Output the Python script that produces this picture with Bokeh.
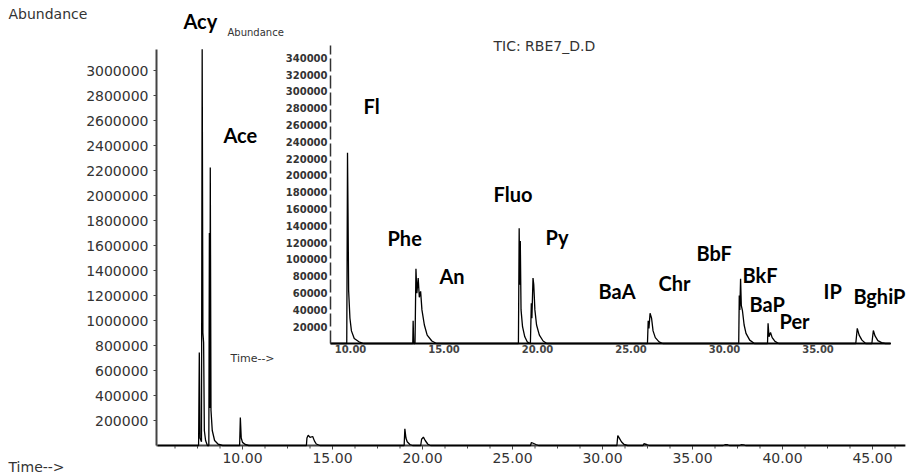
from bokeh.plotting import figure
from bokeh.models import Range1d
from bokeh.core.properties import value
from bokeh.embed import file_html
from bokeh.resources import INLINE

# ---------------- data ----------------
# main total-ion chromatogram: retention time (min), abundance
main_time = [5.3, 7.56, 7.6, 7.64, 7.72, 7.76, 7.8, 7.84, 7.88, 7.95, 8.05,
             8.13, 8.16, 8.19, 8.21, 8.25, 8.32, 8.45, 8.65, 8.9,
             9.84, 9.88, 9.93, 10.0, 10.15, 10.35,
             13.55, 13.58, 13.65, 13.75, 13.9, 14.0, 14.1, 14.3,
             18.98, 19.02, 19.08, 19.15, 19.3, 19.45,
             19.9, 19.95, 20.05, 20.15, 20.3, 20.45,
             26.0, 26.05, 26.15, 26.3, 26.45,
             30.8, 30.85, 30.95, 31.05, 31.2, 31.4,
             32.25, 32.3, 32.45, 32.6,
             36.7, 36.8, 36.95, 37.05,
             37.6, 37.7, 37.85, 37.95, 46.8]
main_abund = [0, 0, 744000, 60000, 30000, 3170000, 900000, 824000, 120000, 40000, 0,
              0, 1700000, 300000, 2224000, 280000, 120000, 40000, 10000, 0,
              0, 224000, 60000, 25000, 8000, 0,
              0, 60000, 82000, 65000, 72000, 35000, 12000, 0,
              0, 133000, 60000, 30000, 8000, 0,
              0, 50000, 67000, 40000, 10000, 0,
              0, 24000, 18000, 8000, 0,
              0, 80000, 55000, 30000, 8000, 0,
              0, 14000, 8000, 0,
              0, 6000, 6000, 0,
              0, 6000, 5000, 0, 0]

# inset (zoomed) chromatogram
inset_time = [8.93, 9.8, 9.84, 9.87, 9.9, 9.97, 10.05, 10.2, 10.45, 10.7,
              13.33, 13.35, 13.38,
              13.45, 13.5, 13.55, 13.62, 13.68, 13.75, 13.82, 13.95, 14.1, 14.35, 14.6,
              18.98, 19.02, 19.05, 19.08, 19.12, 19.2, 19.32, 19.45, 19.6,
              19.62, 19.67, 19.7, 19.76, 19.8, 19.86, 19.95, 20.1, 20.3, 20.5,
              25.88, 25.92, 25.96, 26.02, 26.1, 26.18, 26.3, 26.5, 26.7,
              30.76, 30.79, 30.82, 30.86, 30.9, 30.96, 31.05, 31.15, 31.35, 31.6,
              32.3, 32.33, 32.38, 32.46, 32.55, 32.7, 32.9,
              37.02, 37.1, 37.2, 37.35, 37.55,
              37.88, 37.96, 38.05, 38.2, 38.4, 38.6, 38.9]
inset_abund = [0, 0, 227000, 150000, 63000, 30000, 15000, 6000, 2000, 0,
               0, 27000, 0,
               0, 89000, 60000, 78000, 55000, 62000, 40000, 22000, 10000, 3000, 0,
               0, 137000, 70000, 122000, 40000, 20000, 8000, 2000, 0,
               0, 48000, 30000, 78000, 70000, 40000, 22000, 10000, 3000, 0,
               0, 27000, 18000, 36000, 30000, 15000, 7000, 2000, 0,
               0, 57000, 40000, 77000, 45000, 39000, 22000, 12000, 4000, 0,
               0, 24000, 8000, 13000, 7000, 2500, 0,
               0, 18000, 10000, 4000, 0,
               0, 15500, 9000, 3500, 1000, 0, 0]

main_y_ticks = [200000, 400000, 600000, 800000, 1000000, 1200000, 1400000, 1600000,
                1800000, 2000000, 2200000, 2400000, 2600000, 2800000, 3000000]
main_y_labels = ["200000", "400000", "600000", "800000", "1000000", "1200000", "1400000",
                 "1600000", "1800000", "2000000", "2200000", "2400000", "2600000",
                 "2800000", "3000000"]
main_x_ticks = [10, 15, 20, 25, 30, 35, 40, 45]
main_x_labels = ["10.00", "15.00", "20.00", "25.00", "30.00", "35.00", "40.00", "45.00"]

inset_y_ticks = [20000, 40000, 60000, 80000, 100000, 120000, 140000, 160000, 180000,
                 200000, 220000, 240000, 260000, 280000, 300000, 320000, 340000]
inset_y_labels = ["20000", "40000", "60000", "80000", "100000", "120000", "140000",
                  "160000", "180000", "200000", "220000", "240000", "260000", "280000",
                  "300000", "320000", "340000"]
inset_x_ticks = [10, 15, 20, 25, 30, 35]
inset_x_labels = ["10.00", "15.00", "20.00", "25.00", "30.00", "35.00"]

peak_names = ["Acy", "Ace", "Fl", "Phe", "An", "Fluo", "Py", "BaA", "Chr",
              "BbF", "BkF", "BaP", "Per", "IP", "BghiP"]

# ---------------- layout (pixels) ----------------
W, H = 909, 475
AX_L, AX_R, AX_T, AX_B = 156, 905, 49, 445      # main axes box
MX0, MXS, MYS = 242, 18.0, 8000.0               # main: px of t=10, px/min, abundance per px
IX0, IXS, IY0, IYS = 350, 18.7, 343, 1190.0     # inset: px of t=10, px/min, baseline px, abundance per px


def mpx(x, y):
    """pixel position -> main data coordinates"""
    return 10 + (x - MX0) / MXS, (AX_B - y) * MYS


def ipx(x, y):
    """pixel position -> inset data coordinates"""
    return 10 + (x - IX0) / IXS, (IY0 - y) * IYS


p = figure(width=W, height=H, output_backend="svg", toolbar_location=None,
           x_axis_location=None, y_axis_location=None,
           x_range=Range1d(mpx(0, 0)[0], mpx(W, 0)[0]),
           y_range=Range1d(mpx(0, H)[1], mpx(0, 0)[1]),
           min_border_left=0, min_border_right=0, min_border_top=0, min_border_bottom=0)
p.extra_x_ranges = {"inset": Range1d(ipx(0, 0)[0], ipx(W, 0)[0])}
p.extra_y_ranges = {"inset": Range1d(ipx(0, H)[1], ipx(0, 0)[1])}
p.outline_line_color = None
p.xgrid.visible = False
p.ygrid.visible = False
p.background_fill_color = "white"
p.border_fill_color = "white"

AXC = "#444444"
TXT = "#333333"
FONT = value("DejaVu Sans")

# ---------- main axes ----------
x_lo, y_top = mpx(AX_L, AX_T)
x_hi, _ = mpx(AX_R, AX_T)
p.segment(x0=[x_lo], y0=[0], x1=[x_lo], y1=[y_top], line_color=AXC, line_width=2)
p.segment(x0=[x_lo], y0=[0], x1=[x_hi], y1=[0], line_color=AXC, line_width=2)

# y ticks (outward, 3 px) + labels
tick_x0, _ = mpx(AX_L - 3, 0)
lab_x, _ = mpx(AX_L - 8, 0)
p.segment(x0=[tick_x0] * len(main_y_ticks), y0=main_y_ticks,
          x1=[x_lo] * len(main_y_ticks), y1=main_y_ticks, line_color=AXC, line_width=1)
p.text(x=[lab_x] * len(main_y_ticks), y=main_y_ticks, text=main_y_labels,
       text_align="right", text_baseline="middle", text_font=FONT,
       text_font_size="14px", text_color=TXT)

# x ticks: major + 3 minor between (outward, down)
_, tk_major = mpx(0, AX_B + 4)
_, tk_minor = mpx(0, AX_B + 3)
p.segment(x0=main_x_ticks, y0=[0] * len(main_x_ticks), x1=main_x_ticks,
          y1=[tk_major] * len(main_x_ticks), line_color=AXC, line_width=1)
step = main_x_ticks[1] - main_x_ticks[0]
minor = []
for t0 in [main_x_ticks[0] - step] + main_x_ticks:
    for k in (1, 2, 3):
        m = t0 + k * step / 4
        if x_lo < m < x_hi:
            minor.append(m)
p.segment(x0=minor, y0=[0] * len(minor), x1=minor, y1=[tk_minor] * len(minor),
          line_color=AXC, line_width=1)
_, lab_y = mpx(0, AX_B + 7)
p.text(x=main_x_ticks, y=[lab_y] * len(main_x_ticks), text=main_x_labels,
       text_align="center", text_baseline="top", text_font=FONT,
       text_font_size="14px", text_color=TXT)

# main trace
p.line(main_time, main_abund, line_color="black", line_width=1.3)

# ---------- inset ----------
IR = dict(x_range_name="inset", y_range_name="inset")
p.line(inset_time, inset_abund, line_color="black", line_width=1.3, **IR)
bx0, _ = ipx(330, 0)
bx1, _ = ipx(890, 0)
p.segment(x0=[bx0], y0=[0], x1=[bx1], y1=[0], line_color="black", line_width=2.2, **IR)
_, ytop = ipx(0, 45)
p.segment(x0=[bx0], y0=[0], x1=[bx0], y1=[ytop], line_color=TXT, line_width=1.5,
          line_dash="13 4", **IR)

lx, _ = ipx(327, 0)
p.text(x=[lx] * len(inset_y_ticks), y=inset_y_ticks, text=inset_y_labels,
       text_align="right", text_baseline="middle", text_font=FONT,
       text_font_size="10px", text_font_style="bold", text_color=TXT, **IR)
_, ly = ipx(0, 348)
p.text(x=inset_x_ticks, y=[ly] * len(inset_x_ticks), text=inset_x_labels,
       text_align="center", text_baseline="middle", text_font=FONT,
       text_font_size="10px", text_font_style="bold", text_color="#444444", **IR)

# peak labels (left edge px, baseline px)
peak_px = [(183, 20), (223, 134), (363, 105), (387, 237), (439, 275), (493, 193),
           (545, 236), (598, 290), (658, 282), (696, 252), (742, 274), (749, 303),
           (779, 320), (823, 290), (853, 295)]
pts = [ipx(a, b) for a, b in peak_px]
p.text(x=[q[0] for q in pts], y=[q[1] for q in pts], text=peak_names,
       text_align="left", text_baseline="alphabetic", text_font=value("Lato"),
       text_font_size="20px", text_font_style="bold", text_color="black", **IR)


def add_text(txt, x, y, size):
    dx, dy = ipx(x, y)
    p.text(x=[dx], y=[dy], text=[txt], text_align="left", text_baseline="middle",
           text_font=FONT, text_font_size=size, text_color=TXT, **IR)


add_text("Abundance", 8, 13, "14px")
add_text("Time-->", 8, 466, "14px")
add_text("Abundance", 227, 32, "10px")
add_text("TIC: RBE7_D.D", 493, 45, "14px")
add_text("Time-->", 230, 358, "11px")

open("out.html", "w").write(file_html(p, INLINE))
